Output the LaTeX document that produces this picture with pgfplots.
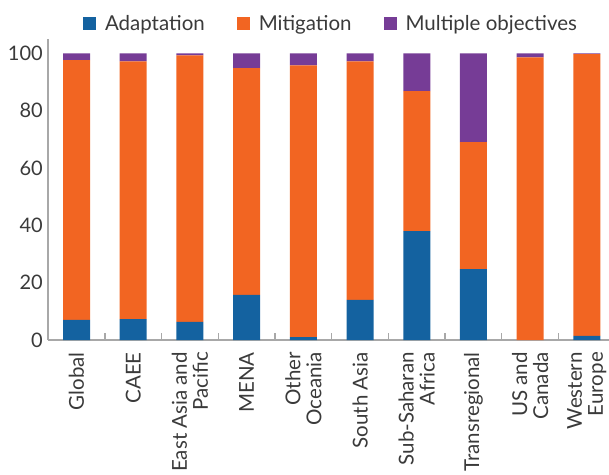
\documentclass[border=0pt]{standalone}
\usepackage{pgfplots}
\pgfplotsset{compat=1.18}
\usepackage{fontspec}
\setmainfont{Lato}
\definecolor{cblue}{HTML}{1462A0}
\definecolor{corange}{HTML}{F26522}
\definecolor{cpurple}{HTML}{763C96}
\definecolor{ctext}{HTML}{3A3A3A}
\definecolor{caxis}{HTML}{A8A8A8}
\begin{document}
\begin{tikzpicture}
\begin{axis}[
  scale only axis,
  width=561pt, height=301pt,
  ybar stacked,
  bar width=27pt,
  xmin=-0.503, xmax=9.39,
  ymin=0, ymax=105,
  axis x line*=bottom,
  axis y line*=left,
  axis line style={caxis, line width=1.3pt},
  every outer x axis line/.append style={-},
  every outer y axis line/.append style={-},
  xtick={0,...,9},
  xticklabels={Global, CAEE, {East Asia and\\Pacific}, MENA, {Other\\Oceania}, South Asia, {Sub-Saharan\\Africa}, Transregional, {US and\\Canada}, {Western\\Europe}},
  major x tick style={draw=none},
  minor xtick={0.5,1.5,...,8.5},
  minor x tick style={caxis, line width=1.3pt},
  minor tick length=7pt,
  ytick={0,20,...,100},
  major y tick style={draw=none},
  tick align=inside,
  xticklabel style={rotate=90, anchor=east, align=right, font=\fontsize{20.5}{21}\selectfont, text=ctext, inner sep=0pt},
  yticklabel style={font=\fontsize{20}{21}\selectfont, text=ctext, inner sep=0pt},
  xticklabel shift=12pt,
  yticklabel shift=5pt,
  /pgf/number format/assume math mode=true,
  legend columns=3,
  legend style={at={(0.5045,1.05)}, anchor=center, draw=none, fill=none,
    font=\fontsize{20.5}{21}\selectfont, text=ctext,
    /tikz/every odd column/.append style={column sep=7pt},
    /tikz/every even column/.append style={column sep=30pt}},
  legend image code/.code={\fill[#1] (0pt,-6.5pt) rectangle (13pt,6.5pt);},
]
\addplot[fill=cblue, draw=none] coordinates {(0,7.0) (1,7.3) (2,6.3) (3,15.7) (4,1.0) (5,14.0) (6,38.0) (7,24.7) (8,0) (9,1.4)};
\addplot[fill=corange, draw=none] coordinates {(0,90.6) (1,89.9) (2,93.0) (3,79.1) (4,94.8) (5,83.2) (6,48.8) (7,44.3) (8,98.6) (9,98.3)};
\addplot[fill=cpurple, draw=none] coordinates {(0,2.4) (1,2.8) (2,0.7) (3,5.2) (4,4.2) (5,2.8) (6,13.2) (7,31.0) (8,1.4) (9,0.3)};
\legend{Adaptation, Mitigation, Multiple objectives}
\end{axis}
\pgfresetboundingbox
\useasboundingbox (-48pt,-134pt) rectangle (561pt,340pt);
\end{tikzpicture}
\end{document}
